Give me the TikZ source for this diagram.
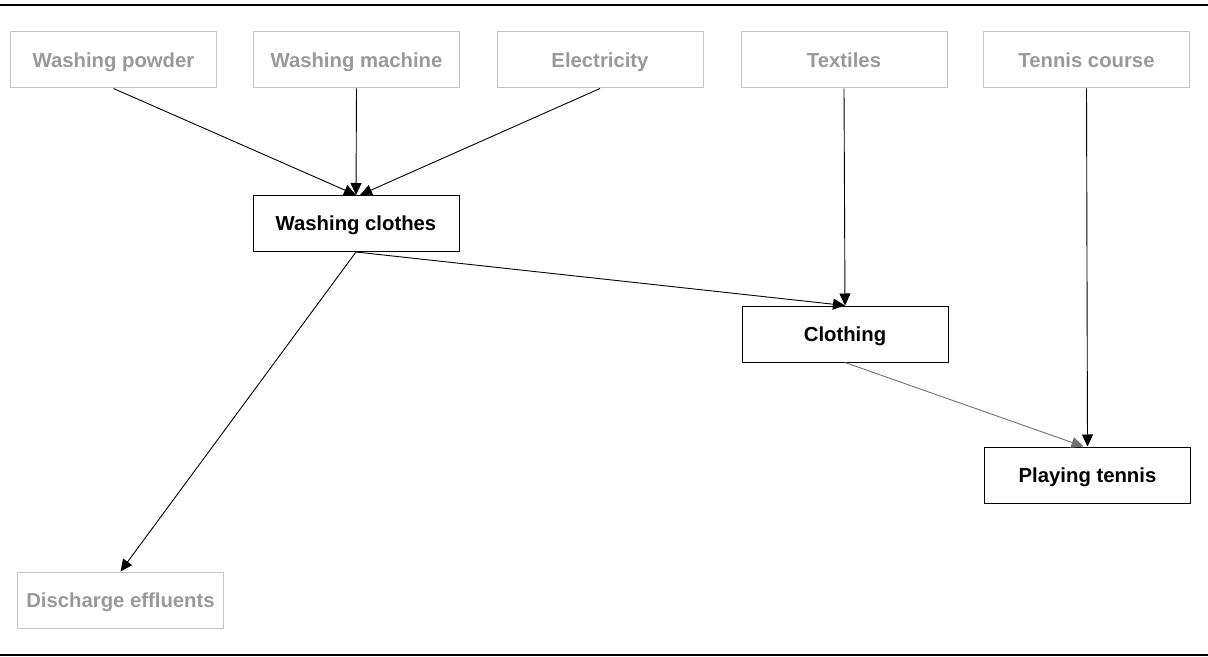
\documentclass[tikz,border=0pt]{standalone}
\usepackage{fontspec}
\setmainfont{Liberation Sans}
\usetikzlibrary{arrows.meta}
\definecolor{ghosttext}{HTML}{999999}
\definecolor{ghostline}{HTML}{C4C4C4}
\definecolor{greyarrow}{HTML}{707070}
\begin{document}
\begin{tikzpicture}[x=1bp,y=-1bp,
  boxbase/.style={rectangle, line width=1bp, minimum width=206bp, minimum height=56bp, inner sep=0pt,
    text height=19bp, text depth=4bp,
    font=\fontsize{20.3bp}{24bp}\selectfont\bfseries},
  ghostbox/.style={boxbase, draw=ghostline, text=ghosttext},
  mainbox/.style={boxbase, draw=black, text=black},
  conn/.style={line width=0.9bp, draw=black, -{Triangle[length=12bp,width=11bp]}},
  greyconn/.style={line width=0.9bp, draw=greyarrow, -{Triangle[length=12bp,width=11bp]}},
  rule/.style={line width=1.6bp, draw=black}]
\useasboundingbox (0,0) rectangle (1208,657);
\coordinate (tl) at (0,5);
\coordinate (tr) at (1208,5);
\coordinate (bl) at (0,655);
\coordinate (br) at (1208,655);
\draw[rule] (tl) -- (tr);
\draw[rule] (bl) -- (br);

\node[ghostbox] (powder) at (113.5,60) {Washing powder};
\node[ghostbox] (machine) at (356.5,60) {Washing machine};
\node[ghostbox] (elec) at (600,60) {Electricity};
\node[ghostbox] (textiles) at (844,60) {Textiles};
\node[ghostbox] (course) at (1086.5,60) {Tennis course};
\node[mainbox] (washing) at (356,223.5) {Washing clothes};
\node[mainbox] (clothing) at (845,334) {Clothing};
\node[mainbox] (tennis) at (1087.5,475) {Playing tennis};
\node[ghostbox] (effluents) at (120.5,600) {Discharge effluents};

\draw[conn] (powder.south) -- (washing.north);
\draw[conn] (machine.south) -- (washing.north);
\draw[conn] (elec.south) -- ([xshift=4bp]washing.north);
\draw[conn] (textiles.south) -- (clothing.north);
\draw[conn] (course.south) -- (tennis.north);
\draw[conn] (washing.south) -- (clothing.north);
\draw[conn] (washing.south) -- (effluents.north);
\draw[greyconn] (clothing.south) -- ([xshift=-4bp]tennis.north);
\end{tikzpicture}
\end{document}
